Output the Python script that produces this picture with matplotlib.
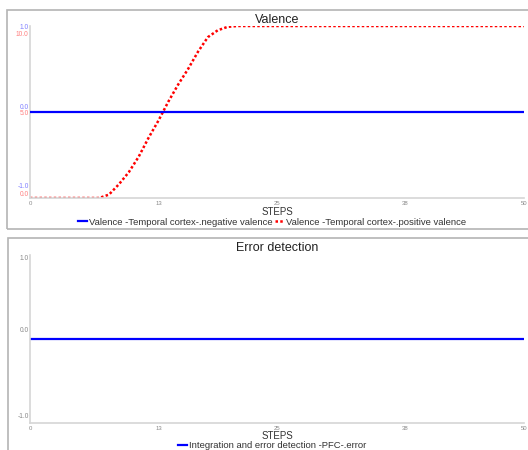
import matplotlib
matplotlib.use("Agg")
import matplotlib.pyplot as plt
from matplotlib.patches import Rectangle
from matplotlib.transforms import ScaledTranslation
import numpy as np

plt.rcParams['font.family'] = ['Liberation Sans', 'DejaVu Sans']

steps = list(range(0, 51))
negative_valence = [0.0] * 51
positive_valence = [0, 0, 0, 0, 0, 0, 0, 0, 0.2, 0.8, 1.5, 2.4, 3.5, 4.5, 5.6, 6.6,
                    7.5, 8.5, 9.35, 9.75, 9.95] + [10.0] * 30
pfc_error = [0.0] * 51
x_ticks = [0, 13, 25, 38, 50]
blue_ticks = [-1.0, 0.0, 1.0]
red_ticks = [0.0, 5.0, 10.0]
err_ticks = [-1.0, 0.0, 1.0]

BLUE = '#0000ff'
RED = '#ff0000'
GRID = '#d6d6d6'
TICKC = '#888888'

fig = plt.figure(figsize=(5.28, 4.5), dpi=100)

# panel borders
fig.patches.append(Rectangle((7/528, 1-229/450), 0.999, 219/450, transform=fig.transFigure,
                             fill=False, edgecolor='#b4b4b4', linewidth=1.2))
fig.patches.append(Rectangle((8/528, -0.1), 0.999, 1-238/450+0.1, transform=fig.transFigure,
                             fill=False, edgecolor='#b4b4b4', linewidth=1.2))

def style(ax, labelpad):
    for s in ['top', 'right']:
        ax.spines[s].set_visible(False)
    for s in ['left', 'bottom']:
        ax.spines[s].set_color(GRID)
        ax.spines[s].set_linewidth(1.2)
    ax.set_xlim(0, 50)
    ax.set_xticks(x_ticks)
    ax.set_xticklabels([str(v) for v in x_ticks])
    ax.tick_params(axis='x', length=0, labelsize=4.3, colors=TICKC, pad=2)
    ax.tick_params(axis='y', length=0, labelsize=4.8, pad=1)
    ax.set_xlabel('STEPS', fontsize=7, color='#333333', labelpad=labelpad)

def shift(labels, dys):
    for lab, dy in zip(labels, dys):
        lab.set_transform(lab.get_transform() + ScaledTranslation(0, dy/100, fig.dpi_scale_trans))

# ---------- top panel ----------
ax1 = fig.add_axes([30/528, 1-198/450, 494/528, 172/450])
style(ax1, 1)
ax1.set_ylim(-1, 1)
ax1.set_yticks(blue_ticks)
ax1.set_yticklabels(['%.1f' % v for v in blue_ticks], color='#7f7fff')
l1, = ax1.plot(steps, negative_valence, color=BLUE, linewidth=1.6, zorder=3)

ax1r = ax1.twinx()
ax1r.set_ylim(0, 10)
for s in ax1r.spines.values():
    s.set_visible(False)
ax1r.yaxis.tick_left()
ax1r.set_yticks(red_ticks)
ax1r.set_yticklabels(['%.1f' % v for v in red_ticks], color='#ff7f7f')
ax1r.tick_params(axis='y', length=0, labelsize=4.8, pad=1)
l2, = ax1r.plot(steps, positive_valence, color=RED, linewidth=1.8,
                linestyle=(0, (1, 0.9)), zorder=3)
ax1.set_zorder(ax1r.get_zorder() + 1)
ax1.patch.set_visible(False)

fig.canvas.draw()
shift(ax1.get_yticklabels(), [12, 5, -1])
shift(ax1r.get_yticklabels(), [5, -1, -8])

fig.text(277/528, 1-20/450, 'Valence', ha='center', va='center', fontsize=9, color='#222222')
fig.legend([l1, l2], ['Valence -Temporal cortex-.negative valence',
                      'Valence -Temporal cortex-.positive valence'],
           loc='center', bbox_to_anchor=(272/528, 1-222/450), ncol=2, frameon=False,
           fontsize=6.8, handlelength=0.9, handletextpad=0.2, columnspacing=0.3,
           borderpad=0, labelcolor='#333333')

# ---------- bottom panel ----------
ax2 = fig.add_axes([30/528, 1-423/450, 494/528, 168/450])
style(ax2, 0)
ax2.set_ylim(-1, 1)
ax2.set_yticks(err_ticks)
ax2.set_yticklabels(['%.1f' % v for v in err_ticks], color=TICKC)
l3, = ax2.plot(steps, pfc_error, color=BLUE, linewidth=1.6)
fig.canvas.draw()
shift(ax2.get_yticklabels(), [7, 9, -3])

fig.text(277/528, 1-248/450, 'Error detection', ha='center', va='center', fontsize=9, color='#222222')
fig.legend([l3], ['Integration and error detection -PFC-.error'],
           loc='center', bbox_to_anchor=(272/528, 1-445.5/450), ncol=1, frameon=False,
           fontsize=6.8, handlelength=0.9, handletextpad=0.2, borderpad=0,
           labelcolor='#333333')

fig.savefig('out.png', dpi=100)
